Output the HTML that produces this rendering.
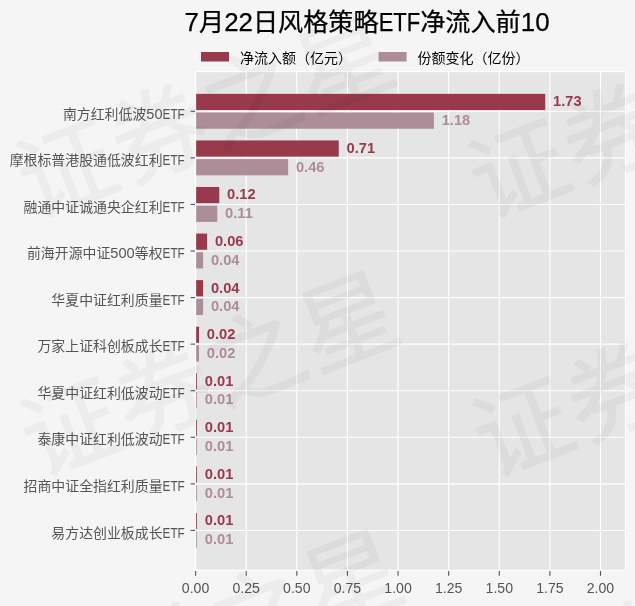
<!DOCTYPE html>
<html lang="zh"><head><meta charset="utf-8"><title>7月22日风格策略ETF净流入前10</title>
<style>html,body{margin:0;padding:0;background:#f5f5f5}svg{display:block;will-change:transform}</style></head>
<body>
<svg width="635" height="606" viewBox="0 0 635 606" font-family='"Liberation Sans","Noto Sans CJK SC",sans-serif'>
<rect width="635" height="606" fill="#f5f5f5"/>
<rect x="195.6" y="71.6" width="429.90" height="498.60" fill="#e5e5e5"/>
<line x1="195.60" y1="71.6" x2="195.60" y2="570.2" stroke="#fff" stroke-width="1.1"/>
<line x1="195.60" y1="570.90" x2="195.60" y2="575.80" stroke="#555" stroke-width="1.1"/>
<text y="593.10" font-size="13.9" fill="#555"><tspan x="181.87" font-size="15.15" textLength="27.45" lengthAdjust="spacingAndGlyphs">0.00</tspan></text>
<line x1="246.21" y1="71.6" x2="246.21" y2="570.2" stroke="#fff" stroke-width="1.1"/>
<line x1="246.21" y1="570.90" x2="246.21" y2="575.80" stroke="#555" stroke-width="1.1"/>
<text y="593.10" font-size="13.9" fill="#555"><tspan x="232.49" font-size="15.15" textLength="27.45" lengthAdjust="spacingAndGlyphs">0.25</tspan></text>
<line x1="296.82" y1="71.6" x2="296.82" y2="570.2" stroke="#fff" stroke-width="1.1"/>
<line x1="296.82" y1="570.90" x2="296.82" y2="575.80" stroke="#555" stroke-width="1.1"/>
<text y="593.10" font-size="13.9" fill="#555"><tspan x="283.10" font-size="15.15" textLength="27.45" lengthAdjust="spacingAndGlyphs">0.50</tspan></text>
<line x1="347.44" y1="71.6" x2="347.44" y2="570.2" stroke="#fff" stroke-width="1.1"/>
<line x1="347.44" y1="570.90" x2="347.44" y2="575.80" stroke="#555" stroke-width="1.1"/>
<text y="593.10" font-size="13.9" fill="#555"><tspan x="333.71" font-size="15.15" textLength="27.45" lengthAdjust="spacingAndGlyphs">0.75</tspan></text>
<line x1="398.05" y1="71.6" x2="398.05" y2="570.2" stroke="#fff" stroke-width="1.1"/>
<line x1="398.05" y1="570.90" x2="398.05" y2="575.80" stroke="#555" stroke-width="1.1"/>
<text y="593.10" font-size="13.9" fill="#555"><tspan x="384.32" font-size="15.15" textLength="27.45" lengthAdjust="spacingAndGlyphs">1.00</tspan></text>
<line x1="448.66" y1="71.6" x2="448.66" y2="570.2" stroke="#fff" stroke-width="1.1"/>
<line x1="448.66" y1="570.90" x2="448.66" y2="575.80" stroke="#555" stroke-width="1.1"/>
<text y="593.10" font-size="13.9" fill="#555"><tspan x="434.94" font-size="15.15" textLength="27.45" lengthAdjust="spacingAndGlyphs">1.25</tspan></text>
<line x1="499.27" y1="71.6" x2="499.27" y2="570.2" stroke="#fff" stroke-width="1.1"/>
<line x1="499.27" y1="570.90" x2="499.27" y2="575.80" stroke="#555" stroke-width="1.1"/>
<text y="593.10" font-size="13.9" fill="#555"><tspan x="485.55" font-size="15.15" textLength="27.45" lengthAdjust="spacingAndGlyphs">1.50</tspan></text>
<line x1="549.89" y1="71.6" x2="549.89" y2="570.2" stroke="#fff" stroke-width="1.1"/>
<line x1="549.89" y1="570.90" x2="549.89" y2="575.80" stroke="#555" stroke-width="1.1"/>
<text y="593.10" font-size="13.9" fill="#555"><tspan x="536.16" font-size="15.15" textLength="27.45" lengthAdjust="spacingAndGlyphs">1.75</tspan></text>
<line x1="600.50" y1="71.6" x2="600.50" y2="570.2" stroke="#fff" stroke-width="1.1"/>
<line x1="600.50" y1="570.90" x2="600.50" y2="575.80" stroke="#555" stroke-width="1.1"/>
<text y="593.10" font-size="13.9" fill="#555"><tspan x="586.77" font-size="15.15" textLength="27.45" lengthAdjust="spacingAndGlyphs">2.00</tspan></text>
<line x1="195.6" y1="111.30" x2="625.5" y2="111.30" stroke="#fff" stroke-width="1.1"/>
<line x1="190.60" y1="111.30" x2="195.20" y2="111.30" stroke="#555" stroke-width="1.1"/>
<text y="118.50" font-size="13.9" fill="#555"><tspan x="62.90" textLength="83.40" lengthAdjust="spacing">南方红利低波</tspan><tspan x="146.30" font-size="15.15" textLength="16.26" lengthAdjust="spacingAndGlyphs">50</tspan><tspan x="162.56" font-size="15.15" textLength="22.24" lengthAdjust="spacingAndGlyphs">ETF</tspan></text>
<line x1="195.6" y1="157.87" x2="625.5" y2="157.87" stroke="#fff" stroke-width="1.1"/>
<line x1="190.60" y1="157.87" x2="195.20" y2="157.87" stroke="#555" stroke-width="1.1"/>
<text y="165.07" font-size="13.9" fill="#555"><tspan x="9.66" textLength="152.90" lengthAdjust="spacing">摩根标普港股通低波红利</tspan><tspan x="162.56" font-size="15.15" textLength="22.24" lengthAdjust="spacingAndGlyphs">ETF</tspan></text>
<line x1="195.6" y1="204.44" x2="625.5" y2="204.44" stroke="#fff" stroke-width="1.1"/>
<line x1="190.60" y1="204.44" x2="195.20" y2="204.44" stroke="#555" stroke-width="1.1"/>
<text y="211.64" font-size="13.9" fill="#555"><tspan x="23.56" textLength="139.00" lengthAdjust="spacing">融通中证诚通央企红利</tspan><tspan x="162.56" font-size="15.15" textLength="22.24" lengthAdjust="spacingAndGlyphs">ETF</tspan></text>
<line x1="195.6" y1="251.01" x2="625.5" y2="251.01" stroke="#fff" stroke-width="1.1"/>
<line x1="190.60" y1="251.01" x2="195.20" y2="251.01" stroke="#555" stroke-width="1.1"/>
<text y="258.21" font-size="13.9" fill="#555"><tspan x="26.97" textLength="83.40" lengthAdjust="spacing">前海开源中证</tspan><tspan x="110.37" font-size="15.15" textLength="24.39" lengthAdjust="spacingAndGlyphs">500</tspan><tspan x="134.76" textLength="27.80" lengthAdjust="spacing">等权</tspan><tspan x="162.56" font-size="15.15" textLength="22.24" lengthAdjust="spacingAndGlyphs">ETF</tspan></text>
<line x1="195.6" y1="297.58" x2="625.5" y2="297.58" stroke="#fff" stroke-width="1.1"/>
<line x1="190.60" y1="297.58" x2="195.20" y2="297.58" stroke="#555" stroke-width="1.1"/>
<text y="304.78" font-size="13.9" fill="#555"><tspan x="51.36" textLength="111.20" lengthAdjust="spacing">华夏中证红利质量</tspan><tspan x="162.56" font-size="15.15" textLength="22.24" lengthAdjust="spacingAndGlyphs">ETF</tspan></text>
<line x1="195.6" y1="344.15" x2="625.5" y2="344.15" stroke="#fff" stroke-width="1.1"/>
<line x1="190.60" y1="344.15" x2="195.20" y2="344.15" stroke="#555" stroke-width="1.1"/>
<text y="351.35" font-size="13.9" fill="#555"><tspan x="37.46" textLength="125.10" lengthAdjust="spacing">万家上证科创板成长</tspan><tspan x="162.56" font-size="15.15" textLength="22.24" lengthAdjust="spacingAndGlyphs">ETF</tspan></text>
<line x1="195.6" y1="390.72" x2="625.5" y2="390.72" stroke="#fff" stroke-width="1.1"/>
<line x1="190.60" y1="390.72" x2="195.20" y2="390.72" stroke="#555" stroke-width="1.1"/>
<text y="397.92" font-size="13.9" fill="#555"><tspan x="37.46" textLength="125.10" lengthAdjust="spacing">华夏中证红利低波动</tspan><tspan x="162.56" font-size="15.15" textLength="22.24" lengthAdjust="spacingAndGlyphs">ETF</tspan></text>
<line x1="195.6" y1="437.29" x2="625.5" y2="437.29" stroke="#fff" stroke-width="1.1"/>
<line x1="190.60" y1="437.29" x2="195.20" y2="437.29" stroke="#555" stroke-width="1.1"/>
<text y="444.49" font-size="13.9" fill="#555"><tspan x="37.46" textLength="125.10" lengthAdjust="spacing">泰康中证红利低波动</tspan><tspan x="162.56" font-size="15.15" textLength="22.24" lengthAdjust="spacingAndGlyphs">ETF</tspan></text>
<line x1="195.6" y1="483.86" x2="625.5" y2="483.86" stroke="#fff" stroke-width="1.1"/>
<line x1="190.60" y1="483.86" x2="195.20" y2="483.86" stroke="#555" stroke-width="1.1"/>
<text y="491.06" font-size="13.9" fill="#555"><tspan x="23.56" textLength="139.00" lengthAdjust="spacing">招商中证全指红利质量</tspan><tspan x="162.56" font-size="15.15" textLength="22.24" lengthAdjust="spacingAndGlyphs">ETF</tspan></text>
<line x1="195.6" y1="530.43" x2="625.5" y2="530.43" stroke="#fff" stroke-width="1.1"/>
<line x1="190.60" y1="530.43" x2="195.20" y2="530.43" stroke="#555" stroke-width="1.1"/>
<text y="537.63" font-size="13.9" fill="#555"><tspan x="51.36" textLength="111.20" lengthAdjust="spacing">易方达创业板成长</tspan><tspan x="162.56" font-size="15.15" textLength="22.24" lengthAdjust="spacingAndGlyphs">ETF</tspan></text>
<rect x="195.6" y="93.85" width="349.64" height="16.2" fill="#983a4c"/>
<rect x="195.6" y="112.55" width="238.29" height="16.2" fill="#ad8d97"/>
<text x="553.04" y="106.35" font-size="14.7" font-weight="bold" fill="#983a4c">1.73</text>
<text x="441.69" y="125.05" font-size="14.7" font-weight="bold" fill="#ad8d97">1.18</text>
<rect x="195.6" y="140.42" width="143.14" height="16.2" fill="#983a4c"/>
<rect x="195.6" y="159.12" width="92.53" height="16.2" fill="#ad8d97"/>
<text x="346.54" y="152.92" font-size="14.7" font-weight="bold" fill="#983a4c">0.71</text>
<text x="295.93" y="171.62" font-size="14.7" font-weight="bold" fill="#ad8d97">0.46</text>
<rect x="195.6" y="186.99" width="23.69" height="16.2" fill="#983a4c"/>
<rect x="195.6" y="205.69" width="21.67" height="16.2" fill="#ad8d97"/>
<text x="227.09" y="199.49" font-size="14.7" font-weight="bold" fill="#983a4c">0.12</text>
<text x="225.07" y="218.19" font-size="14.7" font-weight="bold" fill="#ad8d97">0.11</text>
<rect x="195.6" y="233.56" width="11.55" height="16.2" fill="#983a4c"/>
<rect x="195.6" y="252.26" width="7.50" height="16.2" fill="#ad8d97"/>
<text x="214.95" y="246.06" font-size="14.7" font-weight="bold" fill="#983a4c">0.06</text>
<text x="210.90" y="264.76" font-size="14.7" font-weight="bold" fill="#ad8d97">0.04</text>
<rect x="195.6" y="280.13" width="7.50" height="16.2" fill="#983a4c"/>
<rect x="195.6" y="298.83" width="7.50" height="16.2" fill="#ad8d97"/>
<text x="210.90" y="292.63" font-size="14.7" font-weight="bold" fill="#983a4c">0.04</text>
<text x="210.90" y="311.33" font-size="14.7" font-weight="bold" fill="#ad8d97">0.04</text>
<rect x="195.6" y="326.70" width="3.45" height="16.2" fill="#983a4c"/>
<rect x="195.6" y="345.40" width="3.45" height="16.2" fill="#ad8d97"/>
<text x="206.85" y="339.20" font-size="14.7" font-weight="bold" fill="#983a4c">0.02</text>
<text x="206.85" y="357.90" font-size="14.7" font-weight="bold" fill="#ad8d97">0.02</text>
<rect x="195.6" y="373.27" width="1.42" height="16.2" fill="#983a4c"/>
<rect x="195.6" y="391.97" width="1.42" height="16.2" fill="#ad8d97"/>
<text x="204.82" y="385.77" font-size="14.7" font-weight="bold" fill="#983a4c">0.01</text>
<text x="204.82" y="404.47" font-size="14.7" font-weight="bold" fill="#ad8d97">0.01</text>
<rect x="195.6" y="419.84" width="1.42" height="16.2" fill="#983a4c"/>
<rect x="195.6" y="438.54" width="1.42" height="16.2" fill="#ad8d97"/>
<text x="204.82" y="432.34" font-size="14.7" font-weight="bold" fill="#983a4c">0.01</text>
<text x="204.82" y="451.04" font-size="14.7" font-weight="bold" fill="#ad8d97">0.01</text>
<rect x="195.6" y="466.41" width="1.42" height="16.2" fill="#983a4c"/>
<rect x="195.6" y="485.11" width="1.42" height="16.2" fill="#ad8d97"/>
<text x="204.82" y="478.91" font-size="14.7" font-weight="bold" fill="#983a4c">0.01</text>
<text x="204.82" y="497.61" font-size="14.7" font-weight="bold" fill="#ad8d97">0.01</text>
<rect x="195.6" y="512.98" width="1.42" height="16.2" fill="#983a4c"/>
<rect x="195.6" y="531.68" width="1.42" height="16.2" fill="#ad8d97"/>
<text x="204.82" y="525.48" font-size="14.7" font-weight="bold" fill="#983a4c">0.01</text>
<text x="204.82" y="544.18" font-size="14.7" font-weight="bold" fill="#ad8d97">0.01</text>
<rect x="195.6" y="71.6" width="429.90" height="498.60" fill="none" stroke="#fff" stroke-width="1.1"/>
<text y="31.20" font-size="25.15" fill="#000" stroke="#000" stroke-width="0.25"><tspan x="184.60" font-size="26.41" textLength="14.39" lengthAdjust="spacingAndGlyphs">7</tspan><tspan x="198.99" textLength="25.15" lengthAdjust="spacing">月</tspan><tspan x="224.14" font-size="26.41" textLength="28.77" lengthAdjust="spacingAndGlyphs">22</tspan><tspan x="252.91" textLength="125.75" lengthAdjust="spacing">日风格策略</tspan><tspan x="378.66" font-size="26.41" textLength="41.50" lengthAdjust="spacingAndGlyphs">ETF</tspan><tspan x="420.15" textLength="100.60" lengthAdjust="spacing">净流入前</tspan><tspan x="520.75" font-size="26.41" textLength="28.77" lengthAdjust="spacingAndGlyphs">10</tspan></text>
<rect x="201" y="52" width="28" height="9.5" fill="#983a4c"/>
<text y="63.00" font-size="14.0" fill="#000"><tspan x="240.00" textLength="112.00" lengthAdjust="spacing">净流入额（亿元）</tspan></text>
<rect x="378.6" y="52" width="28" height="9.5" fill="#ad8d97"/>
<text y="63.00" font-size="14.0" fill="#000"><tspan x="417.60" textLength="112.00" lengthAdjust="spacing">份额变化（亿份）</tspan></text>
<g font-size="97" fill="#000" stroke="#000" stroke-width="1.1" stroke-linejoin="round" opacity="0.038" text-anchor="middle">
<text transform="translate(-251,-143.0) rotate(-21)" x="-148.5 -49.5 49.5 148.5" y="35.9">证券之星</text>
<text transform="translate(-247,115.5) rotate(-21)" x="-148.5 -49.5 49.5 148.5" y="35.9">证券之星</text>
<text transform="translate(-243,374.0) rotate(-21)" x="-148.5 -49.5 49.5 148.5" y="35.9">证券之星</text>
<text transform="translate(-239,632.5) rotate(-21)" x="-148.5 -49.5 49.5 148.5" y="35.9">证券之星</text>
<text transform="translate(201,-143.0) rotate(-21)" x="-148.5 -49.5 49.5 148.5" y="35.9">证券之星</text>
<text transform="translate(205,115.5) rotate(-21)" x="-148.5 -49.5 49.5 148.5" y="35.9">证券之星</text>
<text transform="translate(209,374.0) rotate(-21)" x="-148.5 -49.5 49.5 148.5" y="35.9">证券之星</text>
<text transform="translate(213,632.5) rotate(-21)" x="-148.5 -49.5 49.5 148.5" y="35.9">证券之星</text>
<text transform="translate(653,-143.0) rotate(-21)" x="-148.5 -49.5 49.5 148.5" y="35.9">证券之星</text>
<text transform="translate(657,115.5) rotate(-21)" x="-148.5 -49.5 49.5 148.5" y="35.9">证券之星</text>
<text transform="translate(661,374.0) rotate(-21)" x="-148.5 -49.5 49.5 148.5" y="35.9">证券之星</text>
<text transform="translate(665,632.5) rotate(-21)" x="-148.5 -49.5 49.5 148.5" y="35.9">证券之星</text>
</g>
</svg>
</body></html>
